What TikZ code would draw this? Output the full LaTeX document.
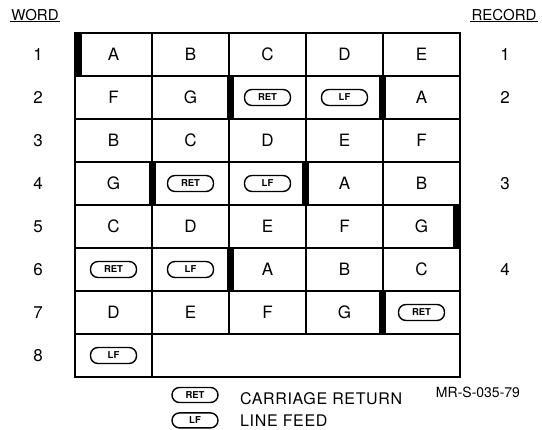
\documentclass[tikz,border=0pt]{standalone}
\usepackage{fontspec}
\setmainfont{TeX Gyre Heros}
\usetikzlibrary{positioning}

\begin{document}
\begin{tikzpicture}[
x=1pt, y=-1pt,
cell/.style={font=\fontsize{17}{17}\selectfont, inner sep=0pt},
lbl/.style={font=\fontsize{17}{17}\selectfont, inner sep=0pt},
head/.style={font=\fontsize{15}{15}\selectfont, inner sep=1pt},
legtext/.style={font=\fontsize{16}{16}\selectfont\addfontfeature{LetterSpace=4}, inner sep=0pt},
pill/.style={draw, rounded corners=7.5pt, line width=1.4pt, minimum width=46pt, minimum height=16pt, inner sep=0pt, font=\fontsize{9.5}{9.5}\selectfont\bfseries},
grid/.style={line width=1.2pt},
recbar/.style={fill=black}
]
\useasboundingbox (0,0) rectangle (542,430);

% headings
\node[head] (word) at (35,15) {WORD};
\draw[line width=1pt] (word.south west) -- (word.south east);
\node[head] (record) at (504,15) {RECORD};
\draw[line width=1pt] (record.south west) -- (record.south east);

% grid
\draw[grid] (75,33) rectangle (460,377);
\foreach \y in {76,119,...,334}
  \draw[grid] (75,\y) -- (460,\y);
\foreach \x in {152,229,306,383}
  \draw[grid] (\x,33) -- (\x,334);
\draw[grid] (152,334) -- (152,377);

% record boundaries
\fill[recbar] (75,33) rectangle (82,76);
\fill[recbar] (227,76) rectangle (234,119);
\fill[recbar] (379,76) rectangle (386,119);
\fill[recbar] (149,162) rectangle (156,205);
\fill[recbar] (302,162) rectangle (309,205);
\fill[recbar] (453,205) rectangle (460,248);
\fill[recbar] (227,248) rectangle (234,291);
\fill[recbar] (379,291) rectangle (386,334);

% words
\foreach \row [count=\r] in {
  {cell/A, cell/B, cell/C, cell/D, cell/E},
  {cell/F, cell/G, pill/RET, pill/LF, cell/A},
  {cell/B, cell/C, cell/D, cell/E, cell/F},
  {cell/G, pill/RET, pill/LF, cell/A, cell/B},
  {cell/C, cell/D, cell/E, cell/F, cell/G},
  {pill/RET, pill/LF, cell/A, cell/B, cell/C},
  {cell/D, cell/E, cell/F, cell/G, pill/RET},
  {pill/LF}}
{
  \node[lbl] (n\r) at (38, {33+43*(\r-0.5)}) {\r};
  \foreach \s/\t [count=\c] in \row
    \node[\s] (w\r-\c) at ({75+77*(\c-0.5)}, {33+43*(\r-0.5)}) {\t};
}

% records
\foreach \r/\y in {1/54.5, 2/97.5, 3/183.5, 4/269.5}
  \node[lbl] (rec\r) at (505,\y) {\r};

% legend
\node[pill, minimum height=15pt] (kret) at (195,395) {RET};
\node[pill, minimum height=15pt, below=9pt of kret] (klf) {LF};
\node[legtext, anchor=west] (tret) at (240,399) {CARRIAGE RETURN};
\node[legtext, anchor=west] (tlf) at (240,421) {LINE FEED};
\node[font=\fontsize{14}{14}\selectfont, inner sep=0pt] (fig) at (478,392) {MR-S-035-79};
\end{tikzpicture}
\end{document}
